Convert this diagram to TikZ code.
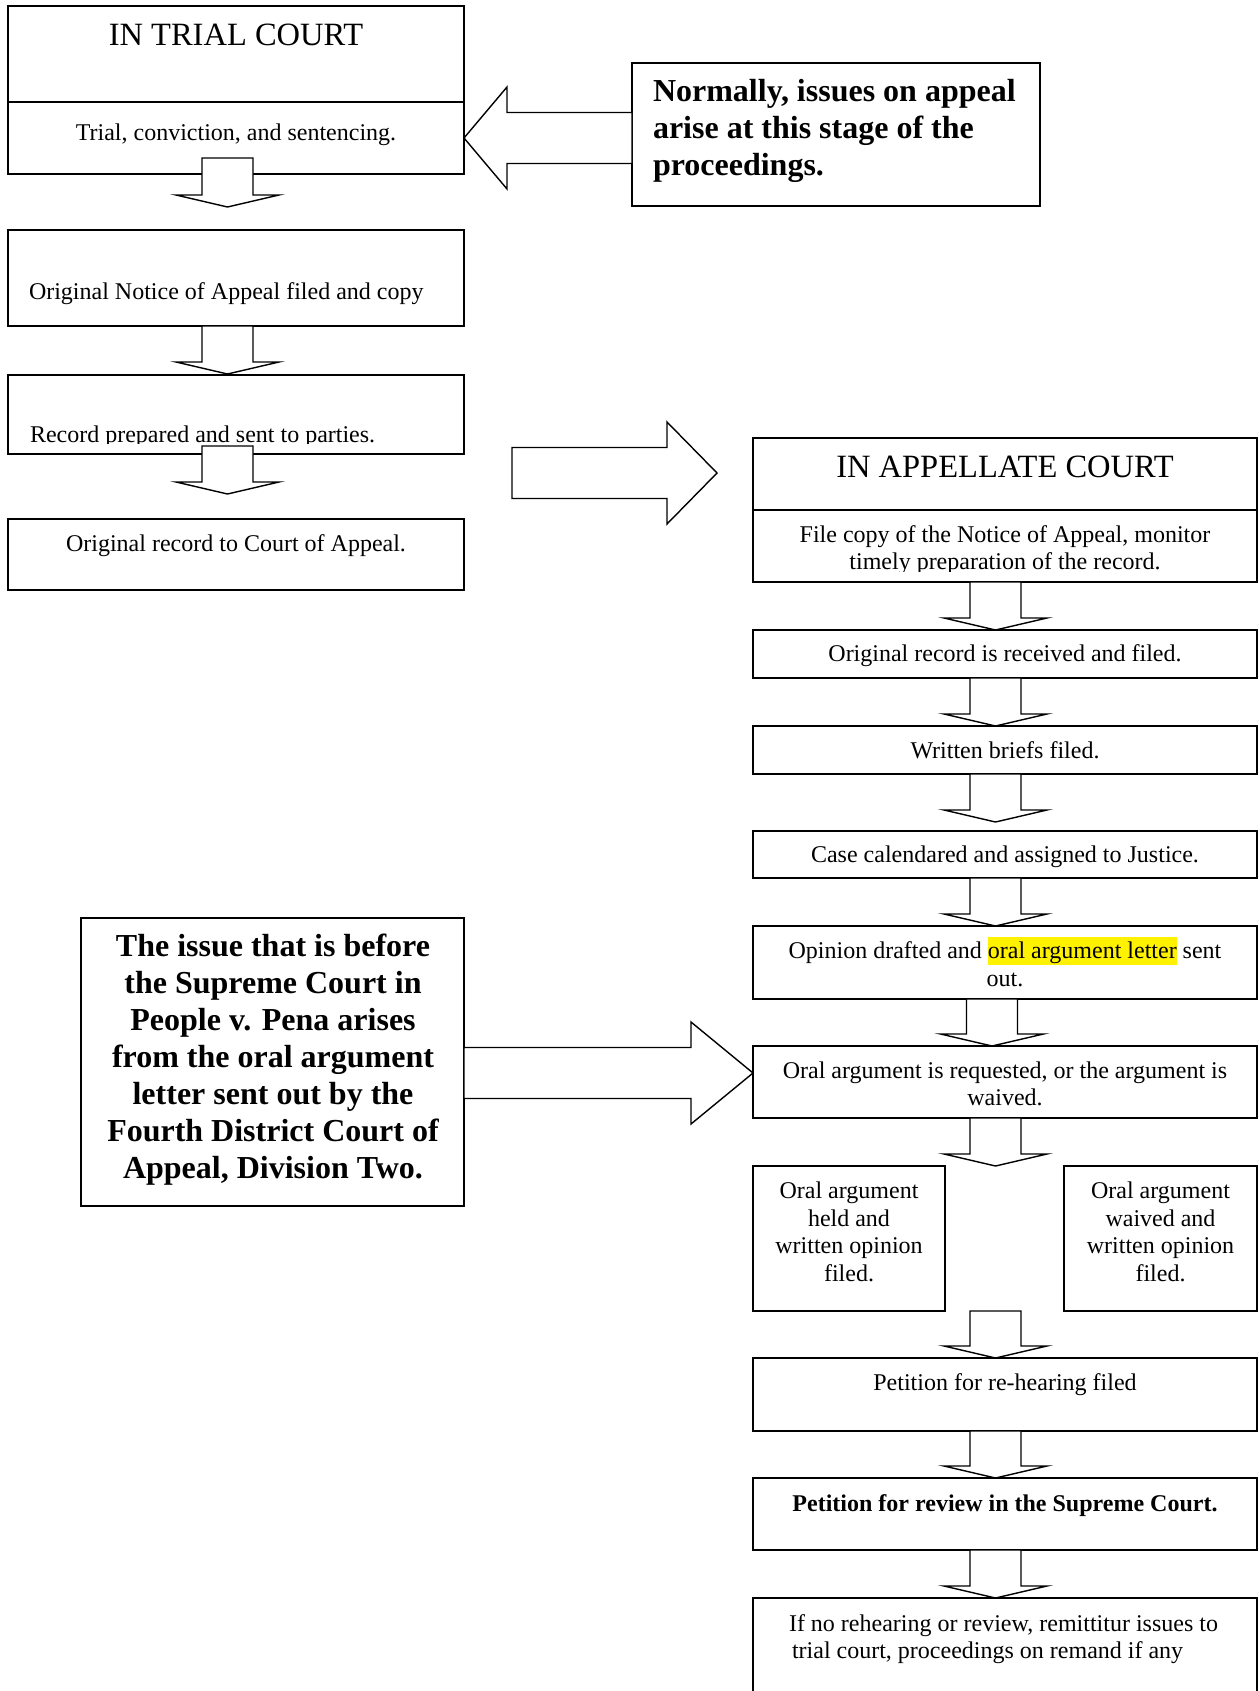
\documentclass[tikz,border=0pt]{standalone}
\usepackage{fontspec}
\setmainfont{Liberation Serif}
\usetikzlibrary{calc}
\setlength{\fboxsep}{0pt}
\newcommand\fsA{\fontsize{24}{27.5}\selectfont}
\newcommand\fsB{\fontsize{32.5}{37.4}\selectfont}
\newcommand\fsC{\fontsize{32}{37}\selectfont\bfseries}
\newcommand\mkbox[5]{%
  \pgfmathsetmacro\bw{#4-#2}\pgfmathsetmacro\bh{#5-#3}%
  \pgfmathsetmacro\bx{(#2+#4)/2}\pgfmathsetmacro\by{(#3+#5)/2}%
  \node[boxst,minimum width=\bw pt,minimum height=\bh pt] (#1) at (\bx,\by) {};}
% #1 x-ref node, #2 from node, #3 to node, #4 x offset, #5 overlap into from, #6 gap above to
\newcommand\blkdown[6]{%
  \draw[blk] let \p3=(#1.center), \p1=(#2.south), \p2=(#3.north) in
   ({\x3+(#4pt)-25.5pt},{\y1+(#5pt)}) --
   ({\x3+(#4pt)+25.5pt},{\y1+(#5pt)}) --
   ({\x3+(#4pt)+25.5pt},{\y2+(#6pt)+12pt}) --
   ({\x3+(#4pt)+51.5pt},{\y2+(#6pt)+12pt}) --
   ({\x3+(#4pt)},{\y2+(#6pt)}) --
   ({\x3+(#4pt)-51.5pt},{\y2+(#6pt)+12pt}) --
   ({\x3+(#4pt)-25.5pt},{\y2+(#6pt)+12pt}) -- cycle;}
% #1 tail, #2 tip, #3 head length
\newcommand\blkright[3]{%
  \draw[blk] let \p1=(#1), \p2=(#2) in
   (\x1,{\y2+25.5pt}) -- ({\x2-#3pt},{\y2+25.5pt}) -- ({\x2-#3pt},{\y2+51pt}) --
   (\x2,\y2) -- ({\x2-#3pt},{\y2-51pt}) -- ({\x2-#3pt},{\y2-25.5pt}) --
   (\x1,{\y2-25.5pt}) -- cycle;}
\newcommand\blkleft[3]{%
  \draw[blk] let \p1=(#1), \p2=(#2) in
   (\x1,{\y2+25.5pt}) -- ({\x2+#3pt},{\y2+25.5pt}) -- ({\x2+#3pt},{\y2+51pt}) --
   (\x2,\y2) -- ({\x2+#3pt},{\y2-51pt}) -- ({\x2+#3pt},{\y2-25.5pt}) --
   (\x1,{\y2-25.5pt}) -- cycle;}
\begin{document}
\begin{tikzpicture}[x=1pt,y=-1pt,
  boxst/.style={draw,line width=1.4pt,fill=white,inner sep=0pt,outer sep=0pt,rectangle},
  blk/.style={draw,line width=1.4pt,fill=white,line join=miter},
  txt/.style={inner sep=0pt,outer sep=0pt,align=center,font=\fsA}]
\useasboundingbox (0,0) rectangle (1259,1691);
\clip (0,0) rectangle (1259,1691);
\fill[white] (0,0) rectangle (1259,1691);
% ---- boxes
\mkbox{trialtop}{8}{6}{464}{102}
\mkbox{trialbot}{8}{102}{464}{174}
\mkbox{notice}{8}{230}{464}{326}
\mkbox{record}{8}{375}{464}{454}
\mkbox{origrec}{8}{519}{464}{590}
\mkbox{norm}{632}{63}{1040}{206}
\mkbox{issue}{81}{918}{464}{1206}
\mkbox{apptop}{753}{438}{1257}{510}
\mkbox{appbot}{753}{510}{1257}{582}
\mkbox{recv}{753}{630}{1257}{678}
\mkbox{briefs}{753}{726}{1257}{774}
\mkbox{cal}{753}{831}{1257}{878}
\mkbox{opin}{753}{926}{1257}{999}
\mkbox{oral}{753}{1046}{1257}{1118}
\mkbox{held}{753}{1166}{945}{1311}
\mkbox{waived}{1064}{1166}{1257}{1311}
\mkbox{rehear}{753}{1358}{1257}{1431}
\mkbox{review}{753}{1478}{1257}{1550}
\node[inner sep=0pt,outer sep=0pt,minimum width=504pt,minimum height=93pt] (final) at (1005,1644.5) {};
\draw[line width=1.4pt] (final.south west) -- (final.north west) -- (final.north east) -- (final.south east);
% ---- block arrows
\blkdown{trialbot}{trialbot}{notice}{-8.5}{16}{23}
\blkdown{notice}{notice}{record}{-8.5}{0}{1}
\blkdown{record}{record}{origrec}{-8.5}{8}{25}
\blkdown{appbot}{appbot}{recv}{-9.5}{0}{0}
\blkdown{recv}{recv}{briefs}{-9.5}{0}{0}
\blkdown{briefs}{briefs}{cal}{-9.5}{0}{9}
\blkdown{cal}{cal}{opin}{-9.5}{0}{0}
\blkdown{opin}{opin}{oral}{-13}{0}{0}
\blkdown{oral}{oral}{held}{-9.5}{0}{0}
\blkdown{rehear}{held}{rehear}{-9.5}{0}{0}
\blkdown{rehear}{rehear}{review}{-9.5}{0}{0}
\blkdown{review}{review}{final}{-9.5}{0}{0}
\blkleft{norm.west |- trialbot.east}{trialbot.east}{43}
\coordinate (bigtail) at (512,473);
\coordinate (bigtip) at (717,473);
\blkright{bigtail}{bigtip}{50}
\coordinate (itip) at ([yshift=9pt]oral.west);
\blkright{issue.east |- itip}{itip}{62}
% ---- texts
\node[txt,font=\fsB] (ttrial) at (236,38.5) {\strut IN TRIAL COURT};
\node[txt] (ttcs) at (236,135.5) {\strut Trial, conviction, and sentencing.};
\node[txt,anchor=west] (tnot) at (29,293.5) {\strut Original Notice of Appeal filed and copy};
\begin{scope}
\clip (record.north west) rectangle ($(record.south east)+(0,-10.5)$);
\node[txt,anchor=west] (trec) at (30,436.5) {\strut Record prepared and sent to parties.};
\end{scope}
\node[txt] (torig) at (236,545.5) {\strut Original record to Court of Appeal.};
\node[txt,font=\fsC,anchor=west,align=left] (tnorm) at (653,131.1) {\strut Normally, issues on appeal\\\strut arise at this stage of the\\\strut proceedings.};
\node[txt,font=\fsC] (tissue) at (273,1059.6) {\strut The issue that is before\\\strut the Supreme Court in\\\strut People v. Pena arises\\\strut from the oral argument\\\strut letter sent out by the\\\strut Fourth District Court of\\\strut Appeal, Division Two.};
\node[txt,font=\fsB] (tapp) at (1005,470.5) {\strut IN APPELLATE COURT};
\begin{scope}
\clip (appbot.north west) rectangle ($(appbot.south east)+(0,-11)$);
\node[txt] (tfile) at (1005,550.5) {\strut File copy of the Notice of Appeal, monitor\\\strut timely preparation of the record.};
\end{scope}
\node[txt] (trecv) at (1005,655.5) {\strut Original record is received and filed.};
\node[txt] (tbrief) at (1005,752.5) {\strut Written briefs filed.};
\node[txt] (tcal) at (1005,857) {\strut Case calendared and assigned to Justice.};
\node[txt] (topin) at (1005,966.75) {\strut Opinion drafted and \smash{\colorbox{yellow}{\rule[-6pt]{0pt}{27.5pt}oral argument letter}} sent\\\strut out.};
\node[txt] (toral) at (1005,1086.5) {\strut Oral argument is requested, or the argument is\\\strut waived.};
\node[txt] (theld) at (849,1234.25) {\strut Oral argument\\\strut held and\\\strut written opinion\\\strut filed.};
\node[txt] (twaiv) at (1160.5,1234.25) {\strut Oral argument\\\strut waived and\\\strut written opinion\\\strut filed.};
\node[txt] (trehear) at (1005,1384.5) {\strut Petition for re-hearing filed};
\node[txt,font=\fsA\bfseries] (trev) at (1005,1506) {\strut Petition for review in the Supreme Court.};
\node[txt,anchor=west,align=left] (tfinal) at (789,1639.25) {\strut If no rehearing or review, remittitur issues to\\\hspace*{3pt}\strut trial court, proceedings on remand if any};
\end{tikzpicture}
\end{document}
